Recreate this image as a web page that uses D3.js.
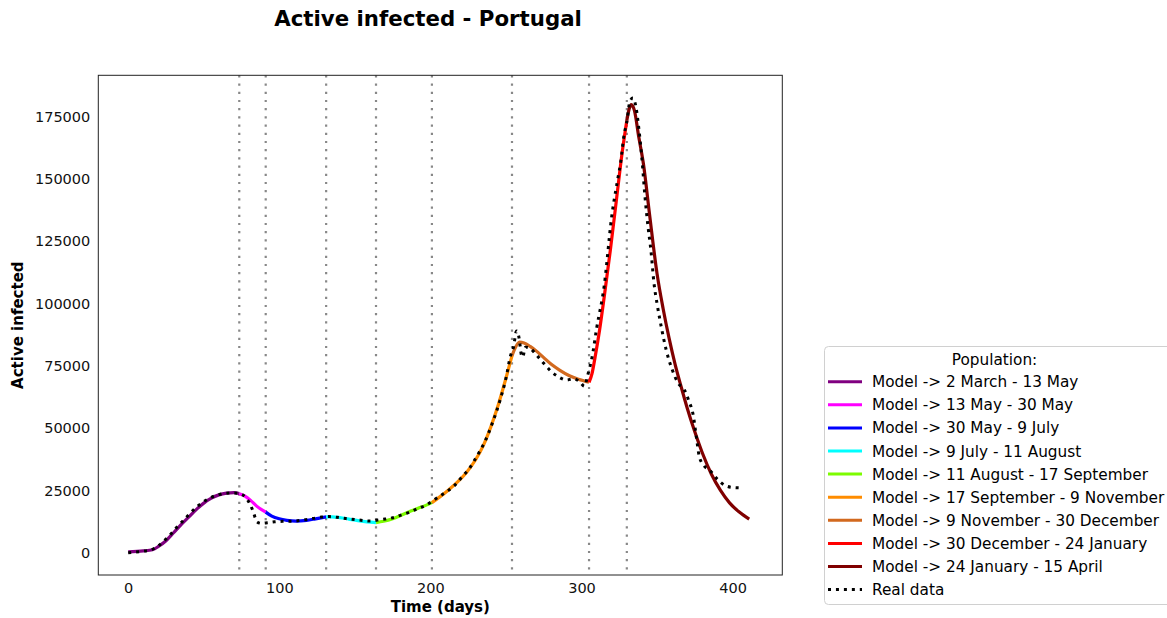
<!DOCTYPE html>
<html>
<head>
<meta charset="utf-8">
<script src="https://cdn.jsdelivr.net/npm/d3@7"></script>
<style>
  body { margin: 0; background: #fff; }
  svg text { font-family: "DejaVu Sans", sans-serif; }
</style>
</head>
<body>
<svg id="chart" width="1167" height="618"></svg>
<script>
// ─── Data ───────────────────────────────────────────────────────────────────
const segLabels = [
  "Model -> 2 March - 13 May",
  "Model -> 13 May - 30 May",
  "Model -> 30 May - 9 July",
  "Model -> 9 July - 11 August",
  "Model -> 11 August - 17 September",
  "Model -> 17 September - 9 November",
  "Model -> 9 November - 30 December",
  "Model -> 30 December - 24 January",
  "Model -> 24 January - 15 April"
];
const segColors = ["#800080", "#ff00ff", "#0000ff", "#00ffff", "#7cfc00",
                   "#ff8c00", "#d2691e", "#ff0000", "#800000"];

// period boundaries (days since 2 March)
const breakDays = [73.5, 91, 131, 164, 201, 254, 305, 330];

// model fit, one array per period: [day, active infected]
const seg1 = [[0,300],[10,700],[16,1200],[20,2500],[25,4800],[30,8000],[35,11300],[40,14300],
              [45,17300],[50,19900],[55,21900],[60,23200],[65,23900],[70,24100],[73.5,23700]];
const seg2 = [[73.5,23700],[77,22800],[81,21000],[85,18700],[91,16300]];
const seg3 = [[91,16300],[95,14700],[100,13600],[105,13000],[111,12700],[118,13000],[124,13600],[131,14350]];
const seg4 = [[131,14350],[135,14400],[140,14100],[146,13500],[152,12900],[158,12400],[164,12100]];
const seg5 = [[164,12100],[169,12600],[175,13600],[181,15100],[187,16700],[194,18300],[201,20100]];
const seg6 = [[201,20100],[206,22300],[212,25200],[218,28400],[224,32300],[230,37400],[235,43000],
              [240,50500],[245,59500],[250,70000],[254,79000]];
const seg7 = [[254,79000],[256,82000],[259,84500],[262,84200],[266,82800],[270,81000],[275,78300],
              [280,75600],[286,73100],[292,71000],[298,69600],[305,68400]];
const seg8 = [[305,68400],[307,72000],[309,78500],[312,89500],[315,102500],[319,121000],
              [323,141000],[327,161000],[330,173500]];
const seg9 = [[330,173500],[331.5,178000],[333,179800],[335,177500],[338,166500],[341,156000],
              [345,136000],[350,112000],[354,98000],[358,86000],[362,75500],[366,66500],
              [370,58000],[375,48500],[380,40000],[386,31500],[392,25000],[398,20000],
              [404,16500],[411,13500]];
const modelSegs = [seg1, seg2, seg3, seg4, seg5, seg6, seg7, seg8, seg9];

// real data: [day, active infected]
const realData = [[0,0],[10,600],[15,1100],[20,2800],[25,5500],[29,8000],[33,10800],[36,12600],
  [40,15200],[45,18200],[50,20500],[55,22200],[60,23300],[65,23900],[70,24000],[74,23600],
  [78,22000],[81,19000],[83,16000],[85,12500],[88,11800],[92,12000],[97,12400],[102,12600],
  [110,12700],[117,13200],[122,13700],[128,14300],[133,14500],[138,14200],[144,13700],
  [150,13300],[156,12900],[160,12700],[165,13100],[170,13500],[175,14000],[181,15200],
  [186,16200],[192,17800],[197,19000],[202,21000],[206,22600],[211,24600],[216,27000],
  [221,30500],[226,34000],[231,39000],[236,44500],[241,52000],[246,61000],[250,70000],
  [253,79000],[255,82500],[257,89000],[259,85000],[260,80000],[261,78500],[263,82500],
  [266,82000],[270,79500],[275,76000],[280,72700],[285,70500],[290,69300],[295,69800],
  [299,68500],[302,66800],[304,71000],[307,78500],[310,90000],[315,107000],[320,135000],
  [324,150000],[326,157000],[328,167000],[330,173000],[332,181000],[334,182500],[336,179000],
  [338,170000],[340,158000],[342,143000],[344,131000],[346,121000],[348,108000],[350,100000],
  [353,90000],[356,81500],[360,73500],[364,68000],[368,65500],[371,61000],[374,55000],
  [376,46500],[378,38500],[381,35000],[385,33000],[390,29500],[395,27000],[400,26200],[407,26000]];

const xTicks = [0, 100, 200, 300, 400];
const yTicks = [0, 25000, 50000, 75000, 100000, 125000, 150000, 175000];

// ─── Layout ─────────────────────────────────────────────────────────────────
const plot = { left: 98.3, right: 782.3, top: 75.3, bottom: 575 };

const svg = d3.select("#chart");

const x = d3.scaleLinear().domain([-19.8, 432.9]).range([plot.left, plot.right]);
const y = d3.scaleLinear().domain([-8950, 191600]).range([plot.bottom, plot.top]);

// ─── Axes ───────────────────────────────────────────────────────────────────
const xAxisG = svg.append("g")
  .attr("transform", `translate(0,${plot.bottom})`)
  .call(d3.axisBottom(x).tickValues(xTicks).tickSize(0).tickPadding(8));
const yAxisG = svg.append("g")
  .attr("transform", `translate(${plot.left},0)`)
  .call(d3.axisLeft(y).tickValues(yTicks).tickFormat(d3.format("d")).tickSize(0).tickPadding(8));

[xAxisG, yAxisG].forEach(g => {
  g.select(".domain").remove();
  g.selectAll("text")
    .attr("font-family", "DejaVu Sans")
    .attr("font-size", "14.5px")
    .attr("fill", "#111");
});

// ─── Period boundaries ─────────────────────────────────────────────────────
svg.append("g")
  .selectAll("line")
  .data(breakDays)
  .join("line")
    .attr("x1", d => x(d))
    .attr("x2", d => x(d))
    .attr("y1", plot.top)
    .attr("y2", plot.bottom)
    .attr("stroke", "#888")
    .attr("stroke-width", 2.2)
    .attr("stroke-dasharray", "2.2,6");

// ─── Model segments ────────────────────────────────────────────────────────
const line = d3.line()
  .x(d => x(d[0]))
  .y(d => y(d[1]))
  .curve(d3.curveMonotoneX);

svg.append("g")
  .selectAll("path")
  .data(modelSegs)
  .join("path")
    .attr("d", line)
    .attr("fill", "none")
    .attr("stroke", (d, i) => segColors[i])
    .attr("stroke-width", 3.2)
    .attr("stroke-linejoin", "round");

// ─── Real data ─────────────────────────────────────────────────────────────
svg.append("path")
  .datum(realData)
  .attr("d", line)
  .attr("fill", "none")
  .attr("stroke", "#000")
  .attr("stroke-width", 3)
  .attr("stroke-dasharray", "3,4.95");

// ─── Frame ─────────────────────────────────────────────────────────────────
svg.append("rect")
  .attr("x", plot.left)
  .attr("y", plot.top)
  .attr("width", plot.right - plot.left)
  .attr("height", plot.bottom - plot.top)
  .attr("fill", "none")
  .attr("stroke", "#222")
  .attr("stroke-width", 1);

// ─── Titles ────────────────────────────────────────────────────────────────
svg.append("text")
  .attr("x", 428)
  .attr("y", 26)
  .attr("text-anchor", "middle")
  .attr("font-size", "21.3px")
  .attr("font-weight", "bold")
  .text("Active infected - Portugal");

svg.append("text")
  .attr("x", (plot.left + plot.right) / 2)
  .attr("y", 612)
  .attr("text-anchor", "middle")
  .attr("font-size", "15px")
  .attr("font-weight", "bold")
  .text("Time (days)");

svg.append("text")
  .attr("transform", `translate(23,${(plot.top + plot.bottom) / 2}) rotate(-90)`)
  .attr("text-anchor", "middle")
  .attr("font-size", "15px")
  .attr("font-weight", "bold")
  .text("Active infected");

// ─── Legend ────────────────────────────────────────────────────────────────
const legend = svg.append("g").attr("transform", "translate(824,346)");
legend.append("rect")
  .attr("x", 0.5)
  .attr("y", 0.5)
  .attr("width", 350)
  .attr("height", 258)
  .attr("rx", 4)
  .attr("fill", "#fff")
  .attr("stroke", "#d0d0d0");

legend.append("text")
  .attr("x", 170.5)
  .attr("y", 19)
  .attr("text-anchor", "middle")
  .attr("font-size", "15.3px")
  .text("Population:");

const rowH = 23.1;
const items = segLabels.map((l, i) => ({ label: l, color: segColors[i], dash: null }))
  .concat([{ label: "Real data", color: "#000", dash: "3,4.95" }]);

const row = legend.selectAll("g.item")
  .data(items)
  .join("g")
    .attr("class", "item")
    .attr("transform", (d, i) => `translate(0,${35.7 + i * rowH})`);

row.append("line")
  .attr("x1", 4)
  .attr("x2", 38)
  .attr("stroke", d => d.color)
  .attr("stroke-width", 3)
  .attr("stroke-dasharray", d => d.dash);

row.append("text")
  .attr("x", 48)
  .attr("y", 5.5)
  .attr("font-size", "15.3px")
  .text(d => d.label);
</script>
</body>
</html>
